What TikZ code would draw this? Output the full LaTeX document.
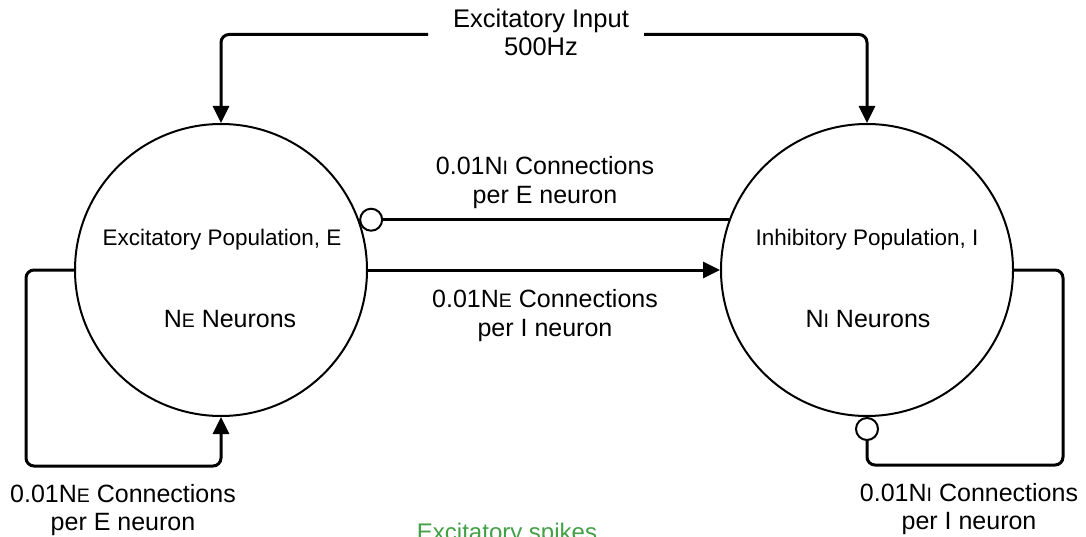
\documentclass[tikz,border=0pt]{standalone}
\usepackage{fontspec}
\setmainfont{Liberation Sans}
\usetikzlibrary{arrows.meta}
\definecolor{spikegreen}{RGB}{67,160,71}
% small letter set on the baseline, as in N_E / N_I
\newcommand{\popidx}[1]{\scalebox{0.78}{#1}}
\begin{document}
\begin{tikzpicture}[x=1pt,y=-1pt,
  pop/.style={circle,draw,line width=2pt,minimum size=292pt,inner sep=0pt},
  conn/.style={line width=3pt,rounded corners=8pt},
  excite/.style={conn,-{Triangle[length=17pt,width=16pt]}},
  inhibit/.style={conn,-{Circle[open,length=24pt,width=24pt,line width=2pt]}},
  poptext/.style={font=\fontsize{22.5}{27}\selectfont,anchor=base,inner sep=0pt},
  counttext/.style={font=\fontsize{25}{30}\selectfont,anchor=base,inner sep=0pt},
  lbl/.style={font=\fontsize{25}{29}\selectfont,align=center,anchor=north,inner sep=0pt}]
  \fill[white] (0,0) rectangle (1086,537);
  \useasboundingbox (0,0) rectangle (1086,537);

  % populations
  \node[pop] (E) at (221,270) {};
  \node[pop] (I) at (867,270) {};
  \node[poptext] (Ename) at (222,245.7) {Excitatory Population, E};
  \node[counttext] (Ecount) at (230,327.7) {N\popidx{E} Neurons};
  \node[poptext] (Iname) at (867,245.7) {Inhibitory Population, I};
  \node[counttext] (Icount) at (868,327.7) {N\popidx{I} Neurons};

  % external drive
  \node[lbl,font=\fontsize{25.5}{28}\selectfont] (input) at (541,8.4) {Excitatory Input\\500Hz};
  \coordinate (inL) at (428,34.5);
  \coordinate (inR) at (644,34.5);
  \draw[excite] (inL) -| (E.north);
  \draw[excite] (inR) -| (I.north);

  % E <-> I projections
  \draw[inhibit] (I.160) -- (E.20);
  \draw[excite] (E.east) -- (I.west);
  \node[lbl] (IEtext) at (545,155.8) {0.01N\popidx{I} Connections\\per E neuron};
  \node[lbl] (EItext) at (545,288.8) {0.01N\popidx{E} Connections\\per I neuron};

  % recurrent loops
  \coordinate (Eloop) at (26,466);
  \draw[excite] (E.west) -| (Eloop) -| (E.south);
  \node[lbl,font=\fontsize{25}{28}\selectfont] (EEtext) at (123,483.8) {0.01N\popidx{E} Connections\\per E neuron};
  \coordinate (Iloop) at (1063,465);
  \draw[inhibit] (I.east) -| (Iloop) -| (I.south);
  \node[lbl,font=\fontsize{25}{28}\selectfont] (IItext) at (969,483.5) {0.01N\popidx{I} Connections\\per I neuron};

  % caption running off the lower edge
  \node[font=\fontsize{24}{29}\selectfont,text=spikegreen,anchor=base,inner sep=0pt] (spikes) at (507,540) {Excitatory spikes};
\end{tikzpicture}
\end{document}
